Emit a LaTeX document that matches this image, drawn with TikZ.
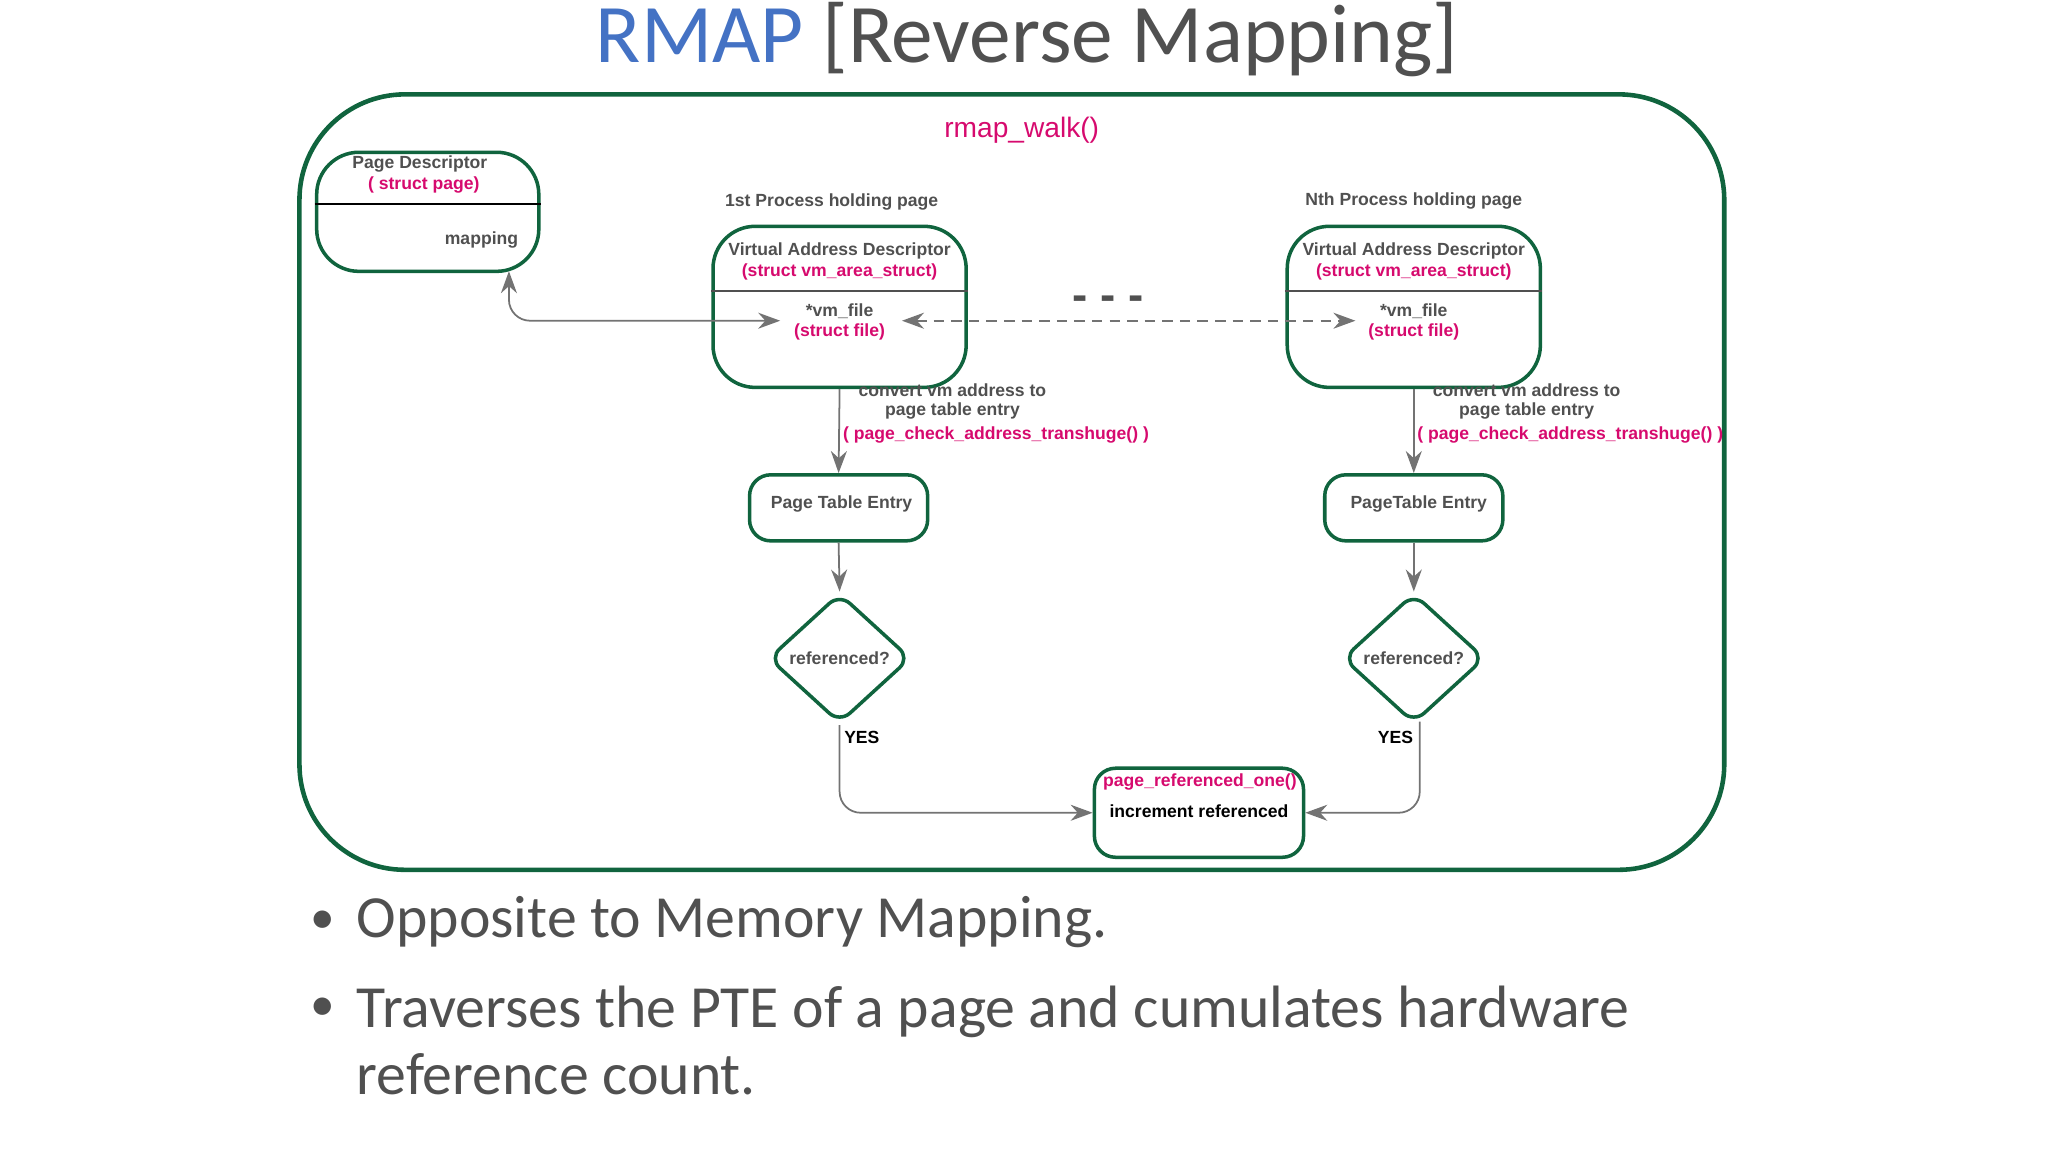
\documentclass[tikz,border=0pt]{standalone}
\usepackage{fontspec}
\setmainfont{Liberation Sans}
\newfontfamily\slidefont{Carlito}
\usetikzlibrary{arrows.meta,shapes.geometric}
\definecolor{boxgreen}{RGB}{16,100,62}
\definecolor{magred}{RGB}{214,10,110}
\definecolor{txtgray}{RGB}{80,80,80}
\definecolor{titleblue}{RGB}{68,114,196}
\begin{document}
\begin{tikzpicture}[x=0.01cm,y=-0.01cm]
  \tikzstyle{box}=[rectangle,draw=boxgreen,line width=1pt,rounded corners=12pt,inner sep=0pt]
  \tikzstyle{cond}=[diamond,draw=boxgreen,line width=1pt,rounded corners=4pt,inner sep=0pt,minimum width=1.42cm,minimum height=1.3cm]
  \tikzstyle{lbl}=[inner sep=0pt,text=txtgray,font=\bfseries\fontsize{5}{6}\selectfont]
  \tikzstyle{code}=[lbl,text=magred]
  \tikzstyle{link}=[draw=txtgray!80,line width=0.5pt,-{Stealth[length=2.2mm,width=1.6mm]}]
  \tikzstyle{bullet}=[anchor=west,inner sep=0pt,text=txtgray,font=\slidefont\fontsize{17}{20}\selectfont]
  \useasboundingbox (0,0) rectangle (2048,1152);
  \node [inner sep=0pt,font=\slidefont\fontsize{23.7}{28}\selectfont,text=txtgray] (title) at (1027,40)
    {\textcolor{titleblue}{RMAP} [Reverse Mapping]};
  \begin{scope}[xshift=0.0303cm,yshift=-0.0095cm,scale=0.99]
  \node [box,line width=1.3pt,rounded corners=30pt,minimum width=14.24cm,minimum height=7.75cm] (walk) at (1019,486) {};
  \node [inner sep=0pt,text=magred,font=\fontsize{8}{9}\selectfont] (walkname) at (1029,131) {rmap\_walk()};
  % page descriptor
  \node [box,minimum width=2.22cm,minimum height=1.19cm] (pd) at (429,213) {};
  \node [lbl] (pdname) at (421,165) {Page Descriptor};
  \node [code] (pdtype) at (425,186) {( struct page)};
  \node [lbl,anchor=east] (pdmap) at (521,241) {mapping};
  \draw [line width=0.6pt] (pd.west |- 0,205) -- (pd.east |- 0,205);
  % first process
  \node [lbl] (proc1) at (837,203) {1st Process holding page};
  \node [box,minimum width=2.53cm,minimum height=1.61cm] (vad1) at (845,309) {};
  \node [lbl] (vad1name) at (845,253) {Virtual Address Descriptor};
  \node [code] (vad1type) at (845,274) {(struct vm\_area\_struct)};
  \node [lbl] (vad1file) at (845,313) {*vm\_file};
  \node [code] (vad1ftype) at (845,334) {(struct file)};
  \draw [line width=0.4pt,txtgray] (vad1.west |- 0,293) -- (vad1.east |- 0,293);
  % nth process
  \node [lbl] (procn) at (1425,202) {Nth Process holding page};
  \node [box,minimum width=2.53cm,minimum height=1.61cm] (vadn) at (1425,309) {};
  \node [lbl] (vadnname) at (1425,253) {Virtual Address Descriptor};
  \node [code] (vadntype) at (1425,274) {(struct vm\_area\_struct)};
  \node [lbl] (vadnfile) at (1425,313) {*vm\_file};
  \node [code] (vadnftype) at (1425,334) {(struct file)};
  \draw [line width=0.4pt,txtgray] (vadn.west |- 0,293) -- (vadn.east |- 0,293);
  \node [lbl,font=\bfseries\fontsize{13}{13}\selectfont] (more) at (1116,305) {- - -};
  % page table entries
  \node [box,rounded corners=6pt,minimum width=1.78cm,minimum height=0.66cm] (pte1) at (844,512) {};
  \node [lbl] (pte1name) at (847,508) {Page Table Entry};
  \node [box,rounded corners=6pt,minimum width=1.78cm,minimum height=0.66cm] (pten) at (1425,512) {};
  \node [lbl] (ptenname) at (1430,508) {PageTable Entry};
  \node [cond] (ref1) at (845,664) {};
  \node [lbl] (ref1q) at (845,664) {referenced?};
  \node [cond] (refn) at (1425,664) {};
  \node [lbl] (refnq) at (1425,664) {referenced?};
  % result
  \node [box,rounded corners=6pt,minimum width=2.09cm,minimum height=0.89cm] (res) at (1208,820) {};
  \node [code] (resfn) at (1209,789) {page\_referenced\_one()};
  \node [lbl,text=black] (resact) at (1208,818) {increment referenced};
  % connectors
  \coordinate (mapin) at (511,273);
  \coordinate (vm1in) at (785,323);
  \coordinate (vm1out) at (908,323);
  \coordinate (vmnin) at (1366,323);
  \coordinate (yesn) at (1431,728);
  \draw [link,{Stealth[length=2.2mm,width=1.6mm]}-{Stealth[length=2.2mm,width=1.6mm]},rounded corners=6pt] (mapin) |- (vm1in);
  \draw [link,densely dashed,{Stealth[length=2.2mm,width=1.6mm]}-{Stealth[length=2.2mm,width=1.6mm]}] (vm1out) -- (vmnin);
  \draw [link] (vad1.south) -- (pte1.north);
  \draw [link] (vadn.south) -- (pten.north);
  \node [lbl] (conv1a) at (959,393) {convert vm address to};
  \node [lbl] (conv1b) at (959,414) {page table entry};
  \node [code] (conv1c) at (1003,438) {( page\_check\_address\_transhuge() )};
  \node [lbl] (convna) at (1539,393) {convert vm address to};
  \node [lbl] (convnb) at (1539,414) {page table entry};
  \node [code] (convnc) at (1583,438) {( page\_check\_address\_transhuge() )};
  \draw [link] (pte1.south) -- (ref1.north);
  \draw [link] (pten.south) -- (refn.north);
  \draw [link,rounded corners=6pt] (ref1.south) |- (res.west);
  \draw [link,rounded corners=6pt] (yesn) |- (res.east);
  \node [lbl,text=black,anchor=west] (yes1) at (849,744) {YES};
  \node [lbl,text=black,anchor=east] (yes2) at (1425,744) {YES};
  \end{scope}
  % bullets
  \node [bullet,anchor=east,font=\slidefont\fontsize{14}{16}\selectfont] (dot1) at (336,922) {\textbullet};
  \node [bullet] (b1) at (356,922) {Opposite to Memory Mapping.};
  \node [bullet,anchor=east,font=\slidefont\fontsize{14}{16}\selectfont] (dot2) at (336,1009) {\textbullet};
  \node [bullet,anchor=north west,align=left] (b2) at (356,985)
    {Traverses the PTE of a page and cumulates hardware\\[-1pt]reference count.};
\end{tikzpicture}
\end{document}
